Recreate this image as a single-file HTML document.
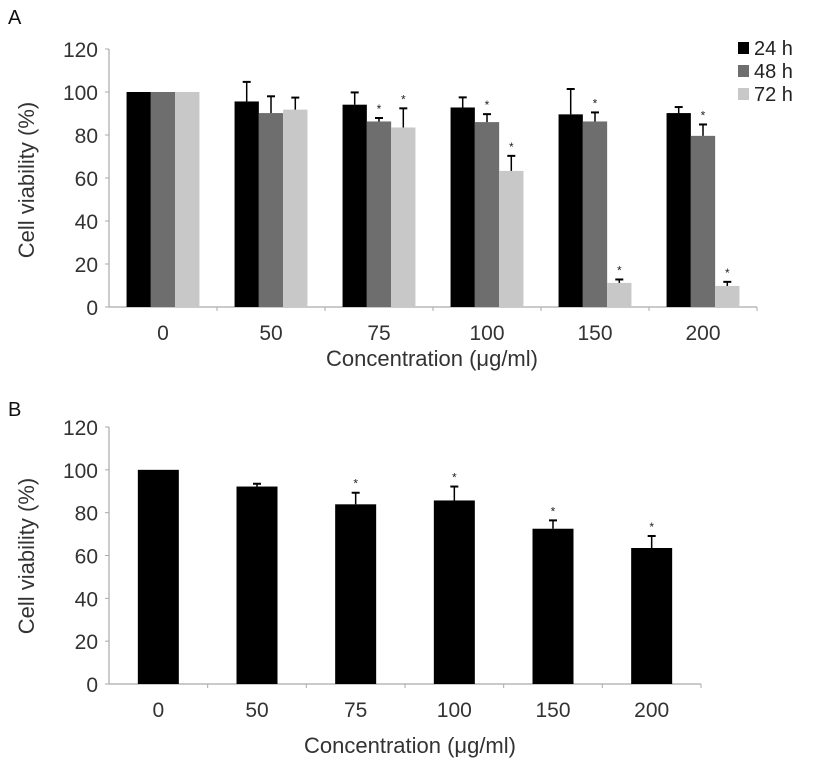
<!DOCTYPE html>
<html><head><meta charset="utf-8"><style>
html,body{margin:0;padding:0;background:#fff;}
svg{display:block;font-family:"Liberation Sans",Arial,sans-serif;}
</style></head><body>
<svg id="chart" width="827" height="768" viewBox="0 0 827 768">
<text x="8" y="24" font-size="20" fill="#111">A</text>
<text x="8" y="416" font-size="20" fill="#111">B</text>
<text transform="translate(34,180) rotate(-90)" text-anchor="middle" font-size="22" fill="#333">Cell viability (%)</text>
<text transform="translate(34,556) rotate(-90)" text-anchor="middle" font-size="22" fill="#333">Cell viability (%)</text>
<text x="432" y="366" text-anchor="middle" font-size="22" fill="#333">Concentration (μg/ml)</text>
<text x="410" y="753" text-anchor="middle" font-size="22" fill="#333">Concentration (μg/ml)</text>
<g id="legend"></g>
<g id="pa"></g>
<g id="pb"></g>
</svg>
<script>
const categories = ["0","50","75","100","150","200"];
const yTicks = [0,20,40,60,80,100,120];
const seriesNames = ["24 h","48 h","72 h"];
const seriesColors = ["#000000","#6e6e6e","#c8c8c8"];
const a24 = [100,95.6,94.1,92.8,89.6,90.2];
const a48 = [100,90.2,86.3,86,86.3,79.6];
const a72 = [100,91.8,83.5,63.3,11.2,9.8];
const a24Err = [0,9.1,5.7,4.7,11.8,2.8];
const a48Err = [0,7.8,1.6,3.7,4.2,5.3];
const a72Err = [0,5.6,8.9,7,1.6,1.9];
const a48Sig = [false,false,true,true,true,true];
const a72Sig = [false,false,true,true,true,true];
const bVals = [100,92.2,83.9,85.7,72.5,63.5];
const bErr = [0,1.3,5.4,6.5,3.9,5.6];
const bSig = [false,false,true,true,true,true];

const NS="http://www.w3.org/2000/svg";
function mk(parent,tag,attrs){const e=document.createElementNS(NS,tag);for(const k in attrs)e.setAttribute(k,attrs[k]);parent.appendChild(e);return e;}

function drawAxes(g,x0,x1,y0,y120,prefix){
  const ys=v=>y0-(v/120)*(y0-y120);
  mk(g,'line',{x1:x0,y1:y120,x2:x0,y2:y0,stroke:'#aaa','stroke-width':1.2});
  mk(g,'line',{x1:x0,y1:y0,x2:x1,y2:y0,stroke:'#aaa','stroke-width':1.2});
  yTicks.forEach(t=>{
    mk(g,'line',{x1:x0-4,y1:ys(t),x2:x0,y2:ys(t),stroke:'#aaa'});
    const tx=mk(g,'text',{x:x0-11,y:ys(t)+8,'text-anchor':'end','font-size':21,fill:'#333'});
    tx.textContent=t;
    
    
  });
  const w=(x1-x0)/categories.length;
  categories.forEach((c,i)=>{
    mk(g,'line',{x1:x0+w*(i+1),y1:y0,x2:x0+w*(i+1),y2:y0+4,stroke:'#aaa'});
    const tx=mk(g,'text',{x:x0+w*(i+0.5),y:y0+33,'text-anchor':'middle','font-size':21,fill:'#333'});
    tx.textContent=c;
    
    
  });
  return {ys,w};
}
function errBar(g,cx,yTop,yBar){
  mk(g,'line',{x1:cx,y1:yTop,x2:cx,y2:yBar,stroke:'#000','stroke-width':1.5});
  mk(g,'line',{x1:cx-4,y1:yTop,x2:cx+4,y2:yTop,stroke:'#000','stroke-width':2});
}
function star(g,cx,y,name){
  const s=mk(g,'text',{x:cx,y:y,'text-anchor':'middle','font-size':12,fill:'#222'});
  s.textContent='*';
  
  
}

// Panel A
(function(){
  const g=document.getElementById('pa');
  const x0=109,x1=757,y0=307,y120=49;
  const {ys,w}=drawAxes(g,x0,x1,y0,y120,'panel-a');
  const bw=24.3;
  const data=[a24,a48,a72], errs=[a24Err,a48Err,a72Err], sigs=[null,a48Sig,a72Sig];
  categories.forEach((c,i)=>{
    const cx=x0+w*(i+0.5);
    data.forEach((arr,s)=>{
      const bx=cx-1.5*bw+s*bw;
      const r=mk(g,'rect',{x:bx,y:ys(arr[i]),width:bw,height:ys(0)-ys(arr[i]),fill:seriesColors[s]});
      
      
      const e=errs[s][i];
      const top=ys(arr[i]+e);
      if(e>0) errBar(g,bx+bw/2,top,ys(arr[i]));
      if(sigs[s]&&sigs[s][i]) star(g,bx+bw/2,top-5,'sig-star-'+c+'-'+seriesNames[s].replace(' ',''));
    });
  });
})();
// Legend
(function(){
  const g=document.getElementById('legend');
  seriesNames.forEach((n,i)=>{
    const y=54+i*23;
    const r=mk(g,'rect',{x:738,y:y-12,width:11,height:12,fill:seriesColors[i]});
    
    
    const t=mk(g,'text',{x:754,y:y+1,'font-size':20,fill:'#222'});
    t.textContent=n;
    
    
  });
})();
// Panel B
(function(){
  const g=document.getElementById('pb');
  const x0=109,x1=701,y0=684,y120=427;
  const {ys,w}=drawAxes(g,x0,x1,y0,y120,'panel-b');
  const bw=41;
  categories.forEach((c,i)=>{
    const cx=x0+w*(i+0.5);
    const r=mk(g,'rect',{x:cx-bw/2,y:ys(bVals[i]),width:bw,height:ys(0)-ys(bVals[i]),fill:'#000'});
    
    
    const top=ys(bVals[i]+bErr[i]);
    if(bErr[i]>0) errBar(g,cx,top,ys(bVals[i]));
    if(bSig[i]) star(g,cx,top-5,'sig-star-b-'+c);
  });
})();
</script>
</body></html>
